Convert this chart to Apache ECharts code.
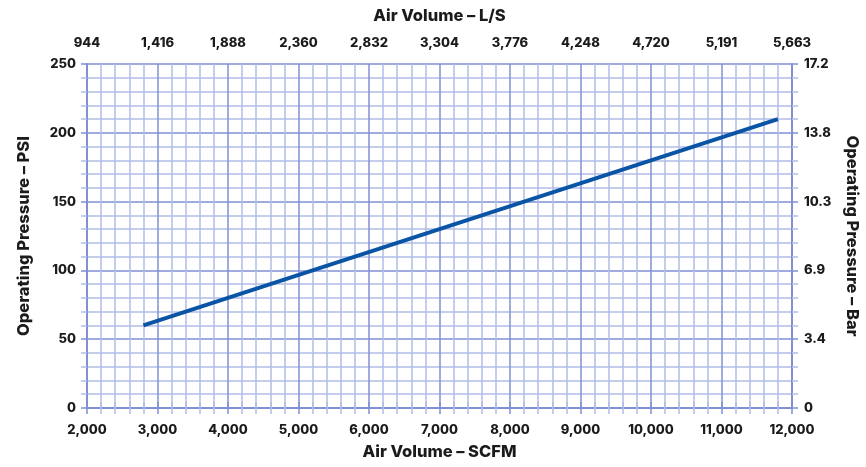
<!DOCTYPE html>
<html><head><meta charset="utf-8">
<script src="https://cdn.jsdelivr.net/npm/echarts@6/dist/echarts.min.js"></script>
<style>html,body{margin:0;padding:0;background:#fff}#c{width:866px;height:467px}</style>
</head><body><div id="c"></div>
<script>
const scfmTicks = [2000,3000,4000,5000,6000,7000,8000,9000,10000,11000,12000];
const lpsLabels = ['944','1,416','1,888','2,360','2,832','3,304','3,776','4,248','4,720','5,191','5,663'];
const psiTicks = [0,50,100,150,200,250];
const barLabels = ['0','3.4','6.9','10.3','13.8','17.2'];
const lineScfm = [2800, 11800];
const linePsi = [60, 210];

const font = 'Inter, "Open Sans", sans-serif';
const txt = '#1b1b1b';
const major = '#8090d4';
const minor = '#b3bde8';
const chart = echarts.init(document.getElementById('c'));
const fmtNum = v => v.toLocaleString('en-US');
const baseX = {
  type:'value', min:scfmTicks[0], max:scfmTicks[scfmTicks.length-1], interval:1000,
  axisLine:{show:true, lineStyle:{color:major, width:2}},
  axisTick:{show:true, length:6, lineStyle:{color:major, width:1.5}},
  minorTick:{show:true, splitNumber:5, length:6, lineStyle:{color:minor, width:1.5}},
  nameLocation:'middle',
  nameTextStyle:{fontFamily:font, fontWeight:800, fontSize:16.5, color:txt},
  axisLabel:{fontFamily:font, fontWeight:800, fontSize:13, color:txt}
};
const baseY = {
  type:'value', min:psiTicks[0], max:psiTicks[psiTicks.length-1], interval:50,
  axisLine:{show:true, lineStyle:{color:major, width:2}},
  axisTick:{show:true, length:6, lineStyle:{color:major, width:1.5}},
  minorTick:{show:true, splitNumber:5, length:6, lineStyle:{color:minor, width:1.5}},
  nameLocation:'middle',
  nameTextStyle:{fontFamily:font, fontWeight:800, fontSize:16.5, color:txt},
  axisLabel:{fontFamily:font, fontWeight:800, fontSize:13, color:txt}
};
chart.setOption({
  animation:false,
  grid:{left:87, right:74, top:64, bottom:59, containLabel:false, outerBoundsMode:'none'},
  xAxis:[
    Object.assign({}, baseX, {position:'bottom', name:'Air Volume – SCFM', nameGap:36,
      axisLabel:Object.assign({}, baseX.axisLabel, {margin:16, formatter:v=>fmtNum(v)}),
      splitLine:{show:true, lineStyle:{color:major, width:1.5}},
      minorSplitLine:{show:true, lineStyle:{color:minor, width:1.5}}}),
    Object.assign({}, baseX, {position:'top', name:'Air Volume – L/S', nameGap:39,
      axisLabel:Object.assign({}, baseX.axisLabel, {margin:14, formatter:v=>lpsLabels[scfmTicks.indexOf(v)]}),
      splitLine:{show:false}, minorSplitLine:{show:false}})
  ],
  yAxis:[
    Object.assign({}, baseY, {position:'left', name:'Operating Pressure – PSI', nameGap:54,
      axisLabel:Object.assign({}, baseY.axisLabel, {margin:11}),
      splitLine:{show:true, lineStyle:{color:major, width:1.5}},
      minorSplitLine:{show:true, lineStyle:{color:minor, width:1.5}}}),
    Object.assign({}, baseY, {position:'right', name:'Operating Pressure – Bar', nameGap:51, nameRotate:-90,
      axisLabel:Object.assign({}, baseY.axisLabel, {margin:12, formatter:v=>barLabels[psiTicks.indexOf(v)]}),
      splitLine:{show:false}, minorSplitLine:{show:false}})
  ],
  series:[{
    type:'line', xAxisIndex:0, yAxisIndex:0, symbol:'none',
    lineStyle:{color:'#0a54a5', width:4},
    data: lineScfm.map((x,i)=>[x, linePsi[i]])
  }]
});
</script></body></html>
